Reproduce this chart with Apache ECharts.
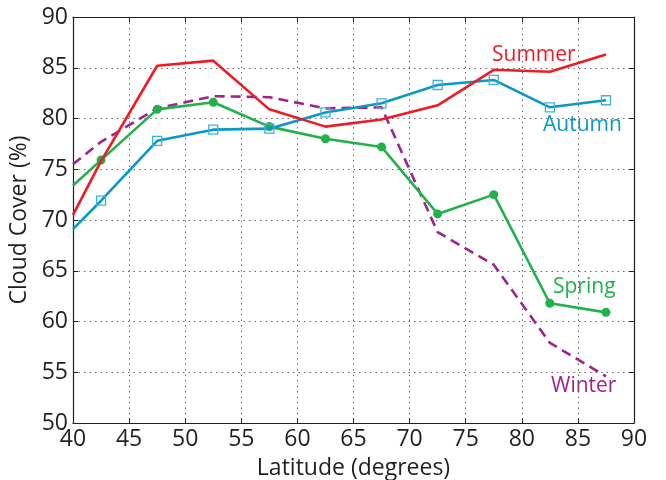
<!DOCTYPE html>
<html><head><meta charset="utf-8">
<script src="https://cdn.jsdelivr.net/npm/echarts@6/dist/echarts.min.js"></script>
<style>html,body{margin:0;padding:0;background:#fff}#c{width:666px;height:480px}</style>
</head><body><div id="c"></div>
<script>
const latitudes = [40, 42.5, 47.5, 52.5, 57.5, 62.5, 67.5, 72.5, 77.5, 82.5, 87.5];
const summer = [70.5, 75.8, 85.2, 85.7, 80.9, 79.2, 79.9, 81.3, 84.8, 84.6, 86.3];
const autumn = [69.1, 71.9, 77.8, 78.9, 79.0, 80.6, 81.5, 83.3, 83.8, 81.1, 81.8];
const spring = [73.4, 75.9, 80.9, 81.6, 79.2, 78.0, 77.2, 70.6, 72.5, 61.8, 60.9];
const winter = [75.5, 77.7, 81.0, 82.2, 82.1, 81.0, 81.1, 68.8, 65.6, 57.9, 54.6];
const xTicks = [40, 45, 50, 55, 60, 65, 70, 75, 80, 85, 90];
const yTicks = [50, 55, 60, 65, 70, 75, 80, 85, 90];

const FONT = '"Open Sans", "Liberation Sans", sans-serif';
const TXT = '#231f20';
const C = {summer:'#ed1c24', autumn:'#0b98c8', spring:'#22b04b', winter:'#a1228f'};

function pts(vals, hideFirst) {
  return latitudes.map((x, i) => {
    const item = {value: [x, vals[i]]};
    if (hideFirst && i === 0) item.symbol = 'none';
    return item;
  });
}

const chart = echarts.init(document.getElementById('c'), null, {renderer:'canvas'});
const baseX = {
  type:'value', min:xTicks[0], max:xTicks[xTicks.length-1], interval:5,
  axisLine:{show:true, onZero:false, lineStyle:{color:'#231f20', width:1.2}},
  axisTick:{show:true, inside:true, length:5, lineStyle:{color:'#231f20'}},
};
const baseY = {
  type:'value', min:yTicks[0], max:yTicks[yTicks.length-1], interval:5,
  axisLine:{show:true, onZero:false, lineStyle:{color:'#231f20', width:1.2}},
  axisTick:{show:true, inside:true, length:5, lineStyle:{color:'#231f20'}},
};
chart.setOption({
  animation:false,
  grid:{left:73, right:32, top:17, bottom:57, containLabel:false, outerBoundsMode:'none'},
  xAxis:[
    Object.assign({}, baseX, {
      position:'bottom',
      name:'Latitude (degrees)', nameLocation:'middle', nameGap:45,
      nameTextStyle:{fontFamily:FONT, fontSize:23, color:TXT, verticalAlign:'middle'},
      axisLabel:{fontFamily:FONT, fontSize:23, color:TXT, margin:5},
      splitLine:{show:true, lineStyle:{type:[1.5,4], color:'#666', width:1}}
    }),
    Object.assign({}, baseX, {position:'top', axisLabel:{show:false}, splitLine:{show:false}})
  ],
  yAxis:[
    Object.assign({}, baseY, {
      position:'left',
      name:'Cloud Cover (%)', nameLocation:'middle', nameGap:48,
      nameTextStyle:{fontFamily:FONT, fontSize:23, color:TXT, verticalAlign:'middle'},
      axisLabel:{fontFamily:FONT, fontSize:23, color:TXT, margin:5},
      splitLine:{show:true, lineStyle:{type:[1.5,4], color:'#666', width:1}}
    }),
    Object.assign({}, baseY, {position:'right', axisLabel:{show:false}, splitLine:{show:false}})
  ],
  series:[
    {name:'Winter', type:'line', data:pts(winter,false), showSymbol:false, symbol:'none',
     lineStyle:{color:C.winter, width:2.6, type:[10,6]}, z:2},
    {name:'Spring', type:'line', data:pts(spring,true), symbol:'circle', symbolSize:9,
     itemStyle:{color:C.spring}, lineStyle:{color:C.spring, width:2.6}, z:3},
    {name:'Autumn', type:'line', data:pts(autumn,true), symbol:'rect', symbolSize:9,
     itemStyle:{color:'rgba(255,255,255,0)', borderColor:'#3fb2dc', borderWidth:1.3},
     lineStyle:{color:C.autumn, width:2.6}, z:4},
    {name:'Summer', type:'line', data:pts(summer,false), symbol:'none',
     lineStyle:{color:C.summer, width:2.6}, z:5}
  ],
  graphic:[
    {type:'text', left:492, top:45, style:{text:'Summer', fill:C.summer, font:'21px '+FONT}},
    {type:'text', left:543, top:115, style:{text:'Autumn', fill:C.autumn, font:'21px '+FONT}},
    {type:'text', left:553, top:277, style:{text:'Spring', fill:C.spring, font:'21px '+FONT}},
    {type:'text', left:551, top:376, style:{text:'Winter', fill:C.winter, font:'21px '+FONT}}
  ]
});
</script></body></html>
